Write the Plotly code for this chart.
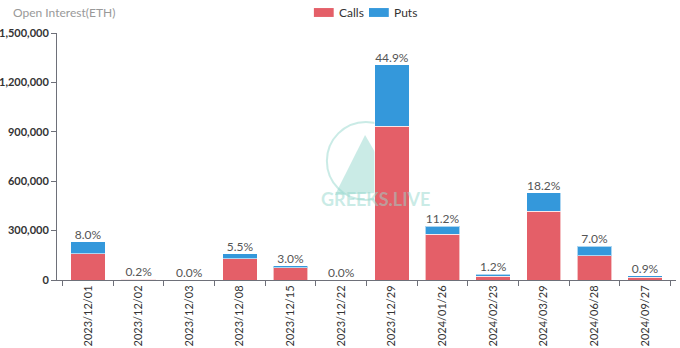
import plotly.graph_objects as go

categories = ["2023/12/01", "2023/12/02", "2023/12/03", "2023/12/08", "2023/12/15",
              "2023/12/22", "2023/12/29", "2024/01/26", "2024/02/23", "2024/03/29",
              "2024/06/28", "2024/09/27"]
calls = [158000, 5000, 500, 128000, 73000, 300, 935000, 279000, 24000, 419000, 146000, 18000]
puts = [75000, 900, 200, 32000, 14000, 200, 371000, 47000, 11000, 110000, 58000, 8000]
pct_labels = ["8.0%", "0.2%", "0.0%", "5.5%", "3.0%", "0.0%", "44.9%", "11.2%",
              "1.2%", "18.2%", "7.0%", "0.9%"]
totals = [c + p for c, p in zip(calls, puts)]

CALL_COLOR = "#e45f68"
PUT_COLOR = "#3498db"
FONT = "Lato, Noto Sans, sans-serif"
WM = "rgba(150,215,205,0.5)"

fig = go.Figure()
fig.add_trace(go.Bar(x=categories, y=calls, name="Calls", marker_color=CALL_COLOR,
                     marker_line=dict(color="rgba(255,255,255,0.6)", width=1), width=0.68,
                     showlegend=False))
fig.add_trace(go.Bar(x=categories, y=puts, name="Puts", marker_color=PUT_COLOR,
                     marker_line=dict(color="rgba(255,255,255,0.6)", width=1), width=0.68,
                     showlegend=False))
fig.add_trace(go.Scatter(x=categories, y=totals, mode="text", text=pct_labels,
                         textposition="top center",
                         textfont=dict(size=12, color="#555", family=FONT),
                         showlegend=False, hoverinfo="skip", cliponaxis=False))

# watermark
fig.add_shape(type="circle", xref="paper", yref="paper", x0=0.436, x1=0.562, y0=0.324, y1=0.640,
              line=dict(color=WM, width=2), layer="below")
fig.add_shape(type="path", xref="paper", yref="paper",
              path="M 0.4977 0.587 L 0.449 0.344 L 0.551 0.356 Z",
              fillcolor=WM, line=dict(width=0), layer="below")
fig.add_annotation(text="<b>GREEKS.LIVE</b>", xref="paper", yref="paper", x=0.515, y=0.275,
                   showarrow=False,
                   font=dict(size=18, color=WM, family="Lato, sans-serif"))

# legend (custom)
fig.add_shape(type="rect", xref="paper", yref="paper", x0=0.415, x1=0.447, y0=1.065, y1=1.101,
              fillcolor=CALL_COLOR, line=dict(width=0))
fig.add_annotation(text="Calls", xref="paper", yref="paper", x=0.453, y=1.083, xanchor="left",
                   yanchor="middle", showarrow=False, font=dict(size=12, color="#333", family=FONT))
fig.add_shape(type="rect", xref="paper", yref="paper", x0=0.504, x1=0.536, y0=1.065, y1=1.101,
              fillcolor=PUT_COLOR, line=dict(width=0))
fig.add_annotation(text="Puts", xref="paper", yref="paper", x=0.542, y=1.083, xanchor="left",
                   yanchor="middle", showarrow=False, font=dict(size=12, color="#333", family=FONT))

fig.add_annotation(text="Open Interest(ETH)", xref="paper", yref="paper", x=-0.075, y=1.085,
                   xanchor="left", yanchor="middle", showarrow=False,
                   font=dict(size=12, color="#999", family=FONT))

fig.update_layout(
    width=680, height=348,
    margin=dict(l=57, r=4, t=33, b=68),
    barmode="stack",
    plot_bgcolor="white", paper_bgcolor="white",
    font=dict(family=FONT, size=11, color="#333"),
    xaxis=dict(type="category", tickangle=-90, showline=True, linecolor="#6e7079",
               ticks="outside", ticklen=5, tickcolor="#6e7079", tickson="boundaries",
               showgrid=False, automargin=False, tickfont=dict(size=11, color="#333")),
    yaxis=dict(range=[0, 1500000], tickvals=[0, 300000, 600000, 900000, 1200000, 1500000],
               tickformat=",", showline=True, linecolor="#6e7079", ticks="outside",
               ticklen=5, tickcolor="#6e7079", showgrid=False, zeroline=False,
               automargin=False, tickfont=dict(size=11, color="#333", weight="bold")),
)

fig.write_html("out.html")
